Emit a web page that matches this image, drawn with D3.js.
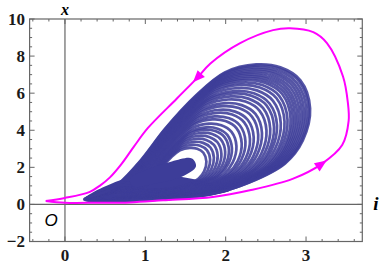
<!DOCTYPE html>
<html>
<head>
<meta charset="utf-8">
<script src="https://cdn.jsdelivr.net/npm/d3@7"></script>
<style>
  body { margin: 0; background: #fff; }
</style>
</head>
<body>
<svg id="chart" width="382" height="269"></svg>
<script>
// magenta orbit, (i, x) in the order it is travelled
var orbitI = [-0.24, 0.0, 0.4, 0.81, 1.22, 1.84, 2.30, 2.84, 3.20, 3.45, 3.53, 3.52, 3.46, 3.26, 3.09, 2.80, 2.59, 2.18, 1.81, 1.64, 1.39, 1.03, 0.86, 0.70, 0.56, 0.44, 0.31, 0.0, -0.24];
var orbitX = [0.19, 0.09, 0.09, 0.11, 0.22, 0.40, 0.76, 1.39, 2.2, 3.2, 4.5, 5.5, 6.9, 8.7, 9.29, 9.5, 9.4, 8.7, 7.6, 6.8, 5.7, 4.11, 3.13, 2.16, 1.46, 1.03, 0.68, 0.35, 0.19];
var arrowAt = [19, 8];

// outer edge of the blue attractor
var outerI = [0.24, 0.93, 1.81, 2.30, 2.74, 2.96, 3.05, 2.93, 2.68, 2.38, 1.99, 1.62, 1.25, 0.91, 0.59];
var outerX = [0.27, 0.22, 0.54, 1.19, 2.21, 3.45, 5.18, 6.69, 7.39, 7.55, 7.12, 5.83, 4.10, 2.21, 0.86];
// the inner loops shrink towards this point; sizes of the visible bands
var loopCentre = [1.18, 1.03];
var loopScales = [0.31, 0.335, 0.36, 0.385, 0.41, 0.435, 0.46, 0.48, 0.51, 0.545, 0.57, 0.60, 0.625, 0.655, 0.68, 0.71, 0.735, 0.76, 0.78, 0.805, 0.83, 0.85, 0.87, 0.885, 0.90, 0.915, 0.93, 0.945, 0.96, 0.975, 0.99, 1.0];
// dark core under the hole and the solid tail at the bottom
var coreI = [0.81, 1.06, 1.33, 1.58, 1.63, 1.46, 1.12, 0.85];
var coreX = [1.40, 1.94, 2.32, 2.48, 2.05, 1.51, 1.13, 0.97];
var tailI = [0.24, 0.93, 1.68, 2.05, 1.56, 1.06, 0.68];
var tailX = [0.27, 0.22, 0.43, 0.76, 1.40, 1.56, 1.29];

var xTicks = [0, 1, 2, 3];
var yTicks = [-2, 0, 2, 4, 6, 8, 10];

var svg = d3.select("#chart");
var x = d3.scaleLinear().domain([-0.44, 3.7]).range([29.6, 362.3]);
var y = d3.scaleLinear().domain([-2, 10]).range([241.5, 19]);

var blue = "#3d3d99";
var grey = "#666";

// axes through the origin
svg.append("line").attr("x1", x(0)).attr("x2", x(0)).attr("y1", y(10)).attr("y2", y(-2))
    .attr("stroke", grey).attr("stroke-width", 1.2);
svg.append("line").attr("x1", x(-0.44)).attr("x2", x(3.7)).attr("y1", y(0)).attr("y2", y(0))
    .attr("stroke", grey).attr("stroke-width", 1.2);

// attractor loops
var loopLine = d3.line().x(function(d) { return x(d[0]); }).y(function(d) { return y(d[1]); })
    .curve(d3.curveCatmullRomClosed);
var outer = outerI.map(function(v, k) { return [v, outerX[k]]; });
var loops = loopScales.map(function(s) {
    return outer.map(function(p) {
        return [loopCentre[0] + s * (p[0] - loopCentre[0]), loopCentre[1] + s * (p[1] - loopCentre[1])];
    });
});
svg.append("path")
    .attr("d", loopLine(tailI.map(function(v, k) { return [v, tailX[k]]; })))
    .attr("fill", blue);
svg.append("g").selectAll("path").data(loops).enter().append("path")
    .attr("d", loopLine)
    .attr("fill", "none")
    .attr("stroke", blue)
    .attr("stroke-width", 2.7)
    .attr("stroke-opacity", 0.88);

svg.append("path")
    .attr("d", loopLine(coreI.map(function(v, k) { return [v, coreX[k]]; })))
    .attr("fill", blue);

// magenta orbit
var orbit = orbitI.map(function(v, k) { return [v, orbitX[k]]; });
var orbitLine = d3.line().x(function(d) { return x(d[0]); }).y(function(d) { return y(d[1]); })
    .curve(d3.curveCatmullRom);
svg.append("path").attr("d", orbitLine(orbit))
    .attr("fill", "none").attr("stroke", "#ff00ff").attr("stroke-width", 2);

arrowAt.forEach(function(k) {
    var px = x(orbit[k][0]), py = y(orbit[k][1]);
    var dx = x(orbit[k + 1][0]) - x(orbit[k - 1][0]);
    var dy = y(orbit[k + 1][1]) - y(orbit[k - 1][1]);
    var a = Math.atan2(dy, dx) * 180 / Math.PI;
    svg.append("path")
        .attr("d", "M5.5,0 L-6.5,-5 L-6.5,5 Z")
        .attr("transform", "translate(" + px + "," + py + ") rotate(" + a + ")")
        .attr("fill", "#ff00ff");
});

// frame and ticks
svg.append("rect").attr("x", 29.6).attr("y", 19).attr("width", 332.7).attr("height", 222.5)
    .attr("fill", "none").attr("stroke", grey).attr("stroke-width", 1.2);

var tk = svg.append("g").attr("stroke", grey).attr("stroke-width", 1);
x.ticks(20).forEach(function(t) {
    var len = xTicks.indexOf(Math.round(t * 10) / 10) >= 0 ? 5 : 2.5;
    tk.append("line").attr("x1", x(t)).attr("x2", x(t)).attr("y1", 241.5).attr("y2", 241.5 - len);
    tk.append("line").attr("x1", x(t)).attr("x2", x(t)).attr("y1", 19).attr("y2", 19 + len);
});
y.ticks(24).forEach(function(t) {
    var len = yTicks.indexOf(t) >= 0 ? 5 : 2.5;
    tk.append("line").attr("y1", y(t)).attr("y2", y(t)).attr("x1", 29.6).attr("x2", 29.6 + len);
    tk.append("line").attr("y1", y(t)).attr("y2", y(t)).attr("x1", 362.3).attr("x2", 362.3 - len);
});

var font = "'Liberation Serif', 'Times New Roman', serif";
svg.append("g").selectAll("text").data(xTicks).enter().append("text")
    .attr("x", function(d) { return x(d); }).attr("y", 261)
    .attr("text-anchor", "middle")
    .style("font-family", font).style("font-weight", "bold").style("font-size", "17px")
    .attr("fill", "#1a1a1a")
    .text(function(d) { return d; });
svg.append("g").selectAll("text").data(yTicks).enter().append("text")
    .attr("x", 25).attr("y", function(d) { return y(d); }).attr("dy", "0.35em")
    .attr("text-anchor", "end")
    .style("font-family", font).style("font-weight", "bold").style("font-size", "17px")
    .attr("fill", "#1a1a1a")
    .text(function(d) { return d < 0 ? "\u2212" + (-d) : d; });

svg.append("text").attr("x", x(0)).attr("y", 15).attr("text-anchor", "middle")
    .style("font-family", font).style("font-weight", "bold").style("font-style", "italic").style("font-size", "16px")
    .text("x");
svg.append("text").attr("x", 376).attr("y", 210).attr("text-anchor", "middle")
    .style("font-family", font).style("font-weight", "bold").style("font-style", "italic").style("font-size", "19px")
    .text("i");
svg.append("text").attr("x", 51).attr("y", 226).attr("text-anchor", "middle")
    .style("font-family", "'Liberation Sans', Arial, sans-serif").style("font-style", "italic").style("font-size", "17px")
    .text("O");
</script>
</body>
</html>
